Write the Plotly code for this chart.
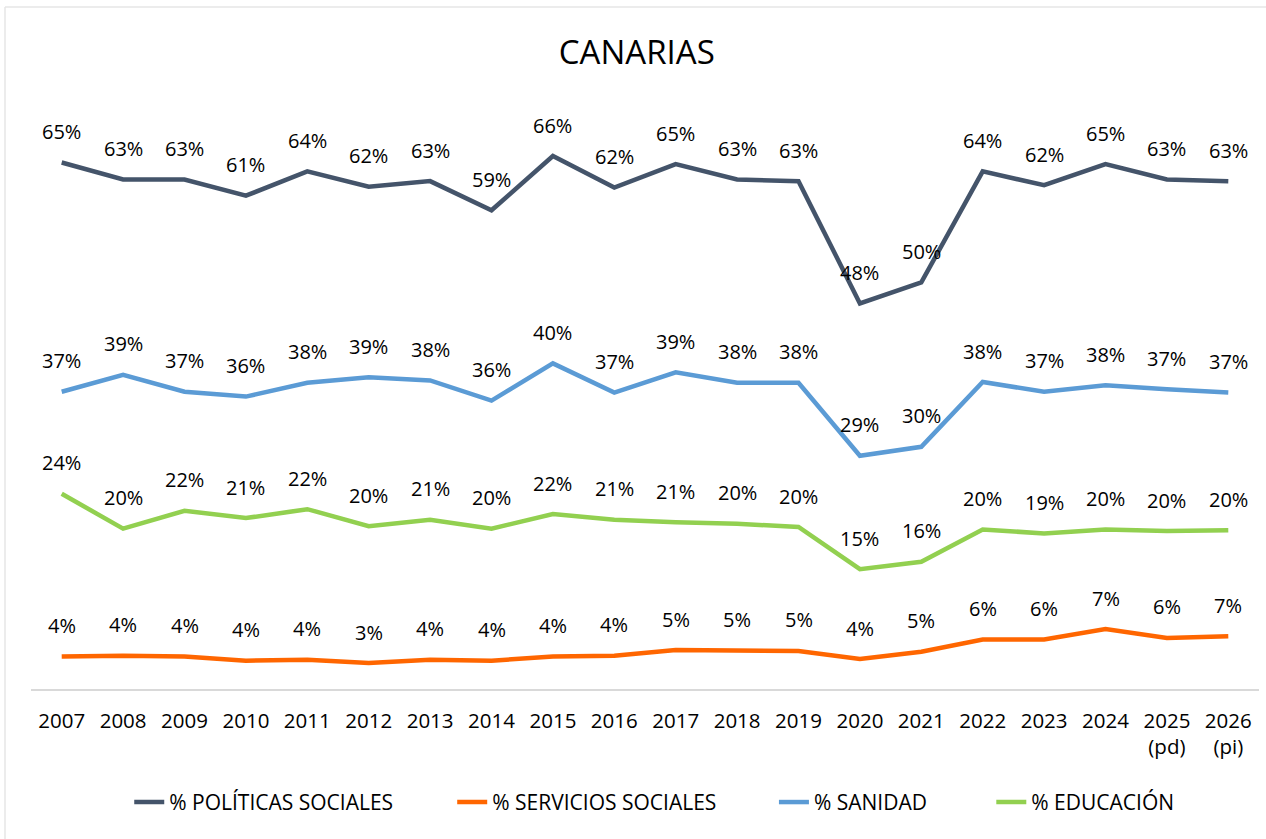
import plotly.graph_objects as go

years = ["2007", "2008", "2009", "2010", "2011", "2012", "2013", "2014", "2015", "2016",
         "2017", "2018", "2019", "2020", "2021", "2022", "2023", "2024", "2025", "2026"]
tick_labels = ["2007", "2008", "2009", "2010", "2011", "2012", "2013", "2014", "2015", "2016",
               "2017", "2018", "2019", "2020", "2021", "2022", "2023", "2024", "2025<br>(pd)", "2026<br>(pi)"]

politicas = [65.0, 62.9, 62.9, 60.9, 63.9, 62.0, 62.7, 59.1, 65.8, 61.9,
             64.8, 62.9, 62.7, 47.6, 50.2, 63.9, 62.2, 64.8, 62.9, 62.7]
servicios = [4.0, 4.1, 4.0, 3.5, 3.6, 3.2, 3.6, 3.5, 4.0, 4.1,
             4.8, 4.7, 4.7, 3.7, 4.6, 6.1, 6.1, 7.4, 6.3, 6.5]
sanidad = [36.7, 38.8, 36.7, 36.1, 37.8, 38.5, 38.1, 35.6, 40.2, 36.6,
           39.1, 37.8, 37.8, 28.8, 29.9, 37.9, 36.7, 37.5, 37.0, 36.6]
educacion = [24.1, 19.8, 22.0, 21.1, 22.2, 20.1, 20.9, 19.8, 21.6, 20.9,
             20.6, 20.4, 20.0, 14.8, 15.7, 19.7, 19.2, 19.7, 19.5, 19.6]

series = [
    ("% POLÍTICAS SOCIALES", politicas, "#44546A"),
    ("% SERVICIOS SOCIALES", servicios, "#FF6600"),
    ("% SANIDAD", sanidad, "#5B9BD5"),
    ("% EDUCACIÓN", educacion, "#92D050"),
]
# legend x positions (paper) for each entry
legend_x = [0.080, 0.343, 0.605, 0.782]

FONT = "Open Sans"
W, H = 1266, 839
ML, MR, MT, MB = 31, 7, 122, 150
PW, PH = W - ML - MR, H - MT - MB

fig = go.Figure()
annotations = []
layout_legends = {}
for k, (name, vals, color) in enumerate(series):
    lg = "legend" if k == 0 else f"legend{k + 1}"
    fig.add_trace(go.Scatter(x=years, y=vals, mode="lines", name=name,
                             line=dict(color=color, width=4.5),
                             hoverinfo="skip", legend=lg))
    layout_legends[lg] = dict(orientation="h", x=legend_x[k], xanchor="left",
                              y=-0.2, yanchor="middle",
                              font=dict(family=FONT, size=21, color="#000000"),
                              bgcolor="rgba(0,0,0,0)")
    for i, v in enumerate(vals):
        annotations.append(dict(x=i, y=v, xref="x", yref="y", text=f"{int(v + 0.5)}%",
                                showarrow=False, yshift=31,
                                font=dict(family=FONT, size=20, color="#000000")))

fig.update_layout(
    width=W, height=H,
    margin=dict(l=ML, r=MR, t=MT, b=MB),
    paper_bgcolor="white", plot_bgcolor="white",
    title=dict(text="CANARIAS", x=0.503, xanchor="center", y=1 - 52 / H, yanchor="middle",
               font=dict(family=FONT, size=33, color="#000000")),
    xaxis=dict(type="category", range=[-0.5, 19.5], tickmode="array", tickvals=years,
               ticktext=tick_labels, showgrid=False, zeroline=False,
               showline=True, linecolor="#D9D9D9", linewidth=2,
               ticks="", ticklabelstandoff=12,
               tickfont=dict(family=FONT, size=20.5, color="#000000")),
    yaxis=dict(range=[0, 70], visible=False, showgrid=False, zeroline=False),
    showlegend=True,
    annotations=annotations,
    shapes=[
        dict(type="line", xref="paper", yref="paper",
             x0=(5 - ML) / PW, x1=(W - ML) / PW, y0=(H - MB - 7) / PH, y1=(H - MB - 7) / PH,
             line=dict(color="#E6E6E6", width=1.5)),
        dict(type="line", xref="paper", yref="paper",
             x0=(5 - ML) / PW, x1=(5 - ML) / PW, y0=(H - MB - 7) / PH, y1=(H - MB - H) / PH,
             line=dict(color="#E6E6E6", width=1.5)),
    ],
    **layout_legends,
)

fig.write_html("out.html", config={"displayModeBar": False})
with open("out.html", encoding="utf-8") as f:
    html = f.read()
html = html.replace("<body>", '<body style="margin:0;overflow:hidden">', 1)
with open("out.html", "w", encoding="utf-8") as f:
    f.write(html)
